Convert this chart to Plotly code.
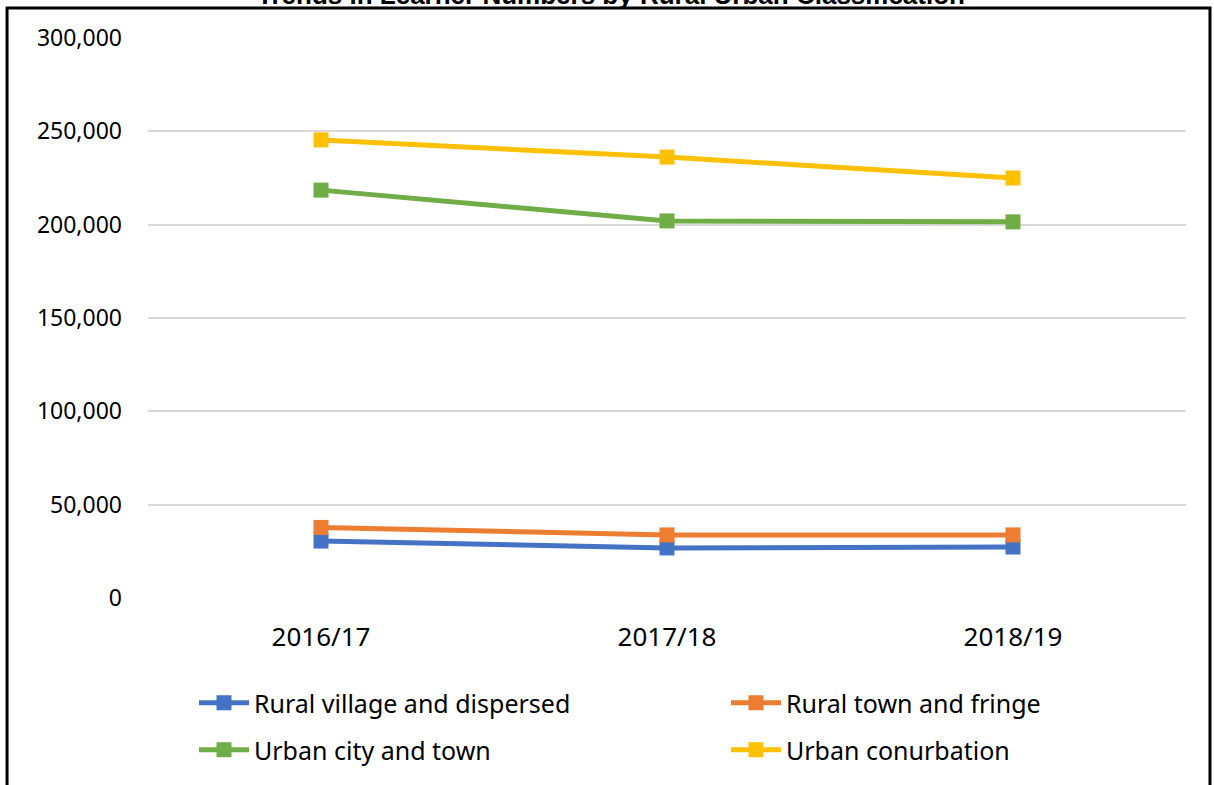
import plotly.graph_objects as go

# data
years = ["2016/17", "2017/18", "2018/19"]
rural_village = [30500, 26800, 27300]
rural_town = [37800, 33800, 33800]
urban_city = [218500, 202000, 201500]
urban_conurbation = [245400, 236200, 225000]

series = [
    ("Rural village and dispersed", rural_village, "#4472C4"),
    ("Rural town and fringe", rural_town, "#ED7D31"),
    ("Urban city and town", urban_city, "#70AD47"),
    ("Urban conurbation", urban_conurbation, "#FFC000"),
]

font = "Noto Sans"

# one legend per entry so the 2x2 grid sits like the original
legend_pos = [(194, 703), (726, 703), (194, 750), (726, 750)]
legend_ids = ["legend", "legend2", "legend3", "legend4"]

fig = go.Figure()
for (name, vals, color), leg in zip(series, legend_ids):
    fig.add_trace(go.Scatter(
        x=years, y=vals, name=name, mode="lines+markers",
        line=dict(color=color, width=5),
        marker=dict(symbol="square", size=15, color=color),
        legend=leg, showlegend=True,
    ))

legends = {}
for leg, (px, py) in zip(legend_ids, legend_pos):
    legends[leg] = dict(
        orientation="h", xref="container", yref="container",
        xanchor="left", yanchor="middle", x=px / 1214, y=(785 - py) / 785,
        itemwidth=50, font=dict(family=font, size=25, color="#000000"),
        bgcolor="rgba(0,0,0,0)",
    )

fig.update_layout(
    width=1214, height=785, showlegend=True,
    margin=dict(l=148, r=28, t=38, b=187, autoexpand=False),
    paper_bgcolor="white", plot_bgcolor="white",
    xaxis=dict(range=[-0.5, 2.5], showgrid=False, zeroline=False, showline=False,
               ticks="", ticklabelstandoff=21,
               tickfont=dict(family=font, size=26, color="#000000")),
    yaxis=dict(range=[0, 300000], dtick=50000, tickformat=",",
               showgrid=True, gridcolor="#D9D9D9", gridwidth=1.5,
               zeroline=False, showline=False, ticks="", ticklabelstandoff=25,
               tickfont=dict(family=font, size=23, color="#000000")),
    shapes=[dict(type="rect", xref="paper", yref="paper",
                 x0=-0.1358, x1=1.0231, y0=-0.5, y1=1.0536,
                 line=dict(color="black", width=3), layer="below")],
    annotations=[dict(text="<b>Trends in Learner Numbers by Rural Urban Classification</b>",
                      xref="paper", yref="paper", x=(611 - 148) / 1038, y=603 / 560,
                      xanchor="center", yanchor="middle", showarrow=False,
                      font=dict(family="Liberation Sans", size=26, color="#000000"))],
    **legends,
)

fig.write_html("out.html", config={"displayModeBar": False},
               post_script="document.body.style.margin='0';")
